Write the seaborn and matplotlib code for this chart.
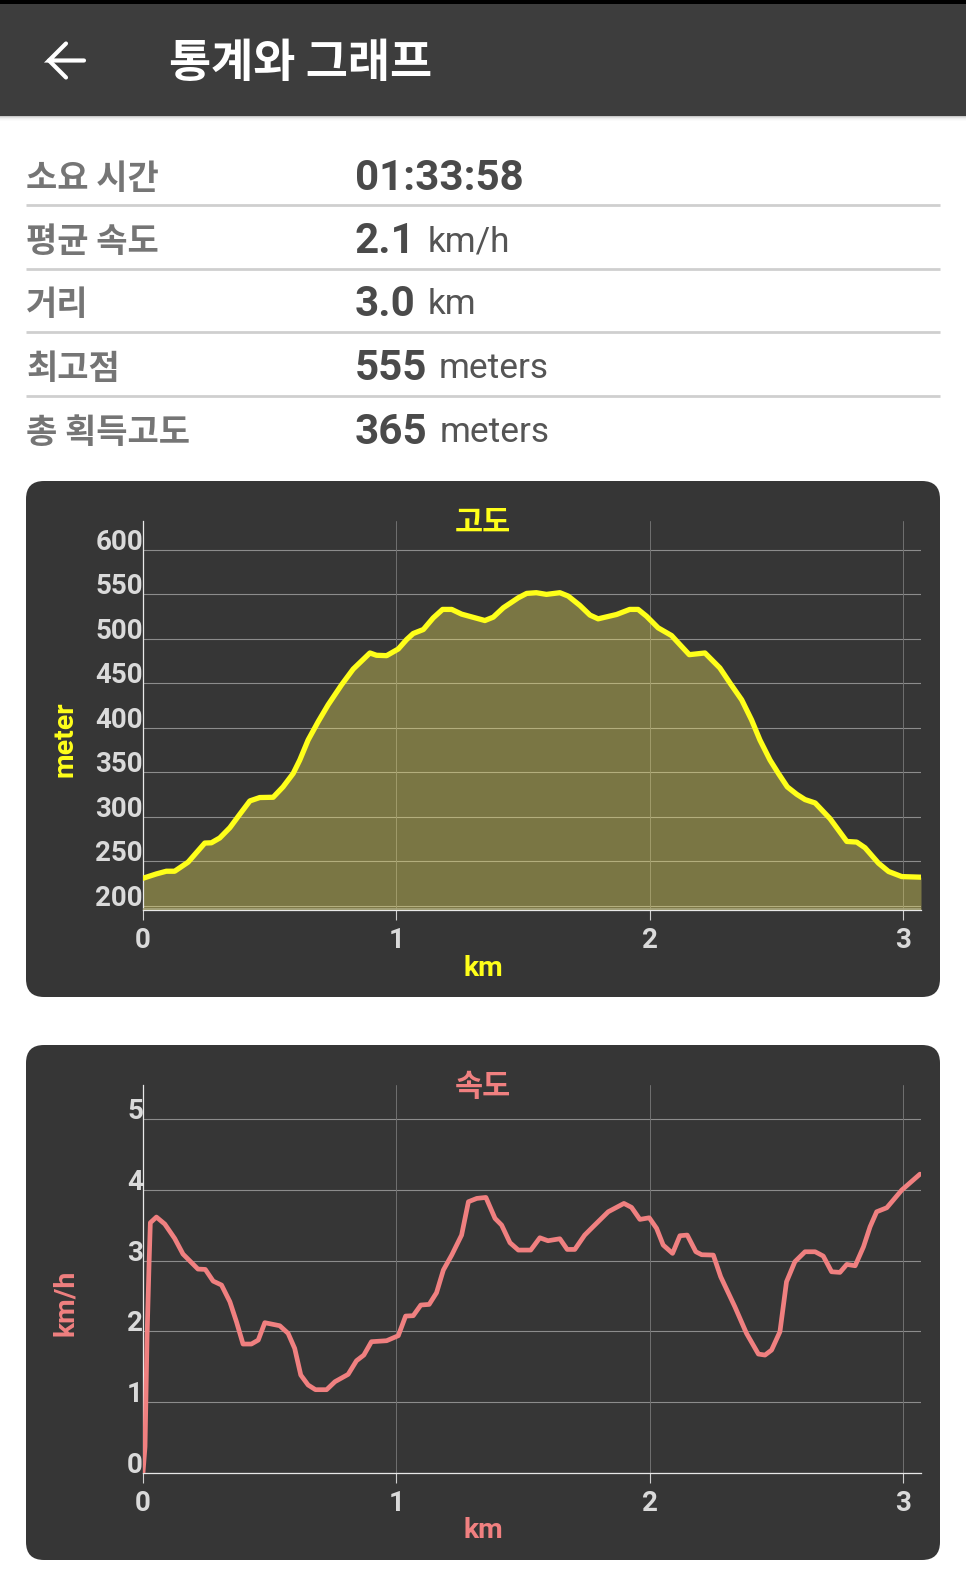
import matplotlib
matplotlib.use("Agg")
import matplotlib.pyplot as plt
from matplotlib.patches import FancyBboxPatch, Rectangle
import pandas as pd
import seaborn as sns

sns.set_theme(style="white")
KR = ['Noto Sans CJK KR', 'DejaVu Sans']
LAT = ['Roboto', 'Noto Sans CJK KR']
plt.rcParams['font.family'] = LAT

header_title = "통계와 그래프"
row_labels = ["소요 시간", "평균 속도", "거리", "최고점", "총 획득고도"]
row_values = ["01:33:58", "2.1", "3.0", "555", "365"]
row_units = ["", "km/h", "km", "meters", "meters"]

alt_km = [0, .053, .092, .125, .178, .244, .270, .303, .343, .382, .422, .461, .514, .553, .593, .619, .652, .692,
          .731, .784, .830, .896, .922, .962, 1.008, 1.041, 1.067, 1.107, 1.146, 1.183, 1.219, 1.258, 1.350,
          1.383, 1.423, 1.482, 1.515, 1.553, 1.593, 1.646, 1.679, 1.725, 1.765, 1.797, 1.870, 1.922, 1.955,
          1.988, 2.034, 2.087, 2.120, 2.157, 2.219, 2.278, 2.318, 2.364, 2.403, 2.436, 2.476, 2.509, 2.544,
          2.581, 2.614, 2.654, 2.713, 2.779, 2.818, 2.851, 2.904, 2.944, 2.996, 3.072]
alt_m = [230.7, 235.6, 238.6, 238.6, 248.8, 270.3, 270.6, 276, 287.6, 302.6, 317.7, 321.5, 321.8, 333.5, 348.6,
         363.6, 386.2, 407, 425.8, 448.3, 466, 484.1, 481.5, 481.1, 488.6, 499.2, 506, 510.5, 523.6, 533.1,
         533.1, 527.8, 520.6, 524.4, 535, 546.2, 551.1, 551.9, 550, 551.9, 548.1, 537.6, 526.7, 522.5, 527.4,
         533.1, 533.1, 525.5, 512.4, 503.7, 493.5, 482.2, 484.1, 467.2, 450.2, 431.4, 408.8, 386.2, 363.6,
         348.6, 333.5, 325.2, 319.2, 315.4, 297.7, 272.1, 271.4, 265, 247.7, 238.3, 232.6, 231.9]

spd_km = [0, .008, .016, .024, .029, .053, .086, .125, .158, .217, .246, .277, .310, .343, .369, .395, .428, .455,
          .481, .540, .573, .599, .623, .652, .681, .725, .758, .810, .843, .872, .902, .962, 1.008, 1.037, 1.067,
          1.097, 1.130, 1.159, 1.186, 1.219, 1.258, 1.285, 1.318, 1.354, 1.390, 1.416, 1.449, 1.482, 1.531, 1.567,
          1.599, 1.646, 1.675, 1.705, 1.744, 1.777, 1.837, 1.899, 1.929, 1.962, 1.999, 2.028, 2.054, 2.091, 2.120,
          2.149, 2.183, 2.206, 2.252, 2.281, 2.337, 2.383, 2.430, 2.456, 2.482, 2.515, 2.541, 2.574, 2.614, 2.654,
          2.686, 2.719, 2.752, 2.779, 2.812, 2.845, 2.871, 2.897, 2.937, 2.996, 3.068]
spd_v = [0, .368, 1.925, 2.962, 3.538, 3.618, 3.519, 3.316, 3.094, 2.882, 2.877, 2.712, 2.656, 2.42, 2.137, 1.821,
         1.821, 1.877, 2.123, 2.08, 1.972, 1.759, 1.382, 1.241, 1.175, 1.175, 1.288, 1.392, 1.585, 1.665, 1.854,
         1.868, 1.939, 2.217, 2.222, 2.373, 2.382, 2.547, 2.868, 3.08, 3.363, 3.835, 3.882, 3.896, 3.599, 3.505,
         3.255, 3.151, 3.151, 3.325, 3.283, 3.311, 3.16, 3.16, 3.363, 3.481, 3.693, 3.811, 3.755, 3.585, 3.608,
         3.458, 3.222, 3.104, 3.354, 3.363, 3.127, 3.085, 3.08, 2.774, 2.349, 1.972, 1.679, 1.665, 1.736, 1.995,
         2.703, 2.986, 3.127, 3.127, 3.066, 2.844, 2.835, 2.948, 2.929, 3.198, 3.481, 3.693, 3.75, 4.0, 4.226]

x_ticks = [0, 1, 2, 3]
alt_ticks = [200, 250, 300, 350, 400, 450, 500, 550, 600]
spd_ticks = [0, 1, 2, 3, 4, 5]

W, H = 966, 1584
fig = plt.figure(figsize=(W / 100, H / 100), dpi=100, facecolor='white')
ui = fig.add_axes([0, 0, 1, 1], zorder=0)
ui.set_xlim(0, W); ui.set_ylim(H, 0); ui.axis('off')

ui.add_patch(Rectangle((0, 0), W, 116, color='#3d3d3d', lw=0))
ui.add_patch(Rectangle((0, 0), W, 4, color='#000000', lw=0))
for i, c in enumerate(['#c8c8c8', '#e0e0e0', '#eeeeee', '#f6f6f6', '#fbfbfb']):
    ui.add_patch(Rectangle((0, 116 + i), W, 1, color=c, lw=0))
ui.plot([84, 49, 66], [60.5, 60.5, 43.5], color='white', lw=3, solid_capstyle='round', solid_joinstyle='miter')
ui.plot([49, 66], [60.5, 77.5], color='white', lw=3, solid_capstyle='round')
ui.text(169, 64, header_title, color='white', fontsize=33, family=KR, weight='bold', va='center', ha='left')

row_y = [178, 241.5, 305, 369, 432.5]
for y, lab, val, unit in zip(row_y, row_labels, row_values, row_units):
    ui.text(26, y, lab, color='#757575', fontsize=24.5, family=KR, weight='bold', va='center', ha='left')
    t = ui.text(355, y, val, color='#4a4a4a', fontsize=30.3, family=LAT, weight='bold', va='center', ha='left')
    if unit:
        fig.canvas.draw()
        bb = t.get_window_extent()
        ui.text(bb.x1 + 11.5, y, unit, color='#555555', fontsize=25.4, family=LAT, va='center', ha='left')
for y in [205, 269, 332, 396]:
    ui.plot([26, 940], [y, y], color='#cfcfcf', lw=2.0, solid_capstyle='butt')


def panel(top, bottom):
    ui.add_patch(FancyBboxPatch((26, top), 914, bottom - top, boxstyle="round,pad=0,rounding_size=18",
                                fc='#363636', ec='none'))


def chart(px_top, px_bottom, km, vals, color, ylim, yticks, title, ylabel, title_y, xlab_y, ylab_y, lw):
    ax = fig.add_axes([143.0 / W, 1 - px_bottom / H, (921 - 143.0) / W, (px_bottom - px_top) / H], zorder=2)
    ax.patch.set_alpha(0)
    df = pd.DataFrame({'km': km, 'v': vals})
    sns.lineplot(data=df, x='km', y='v', ax=ax, color=color, estimator=None, sort=False, zorder=4)
    for ln in ax.lines:
        ln.set_linewidth(lw)
        ln.set_solid_joinstyle('round')
    ax.set_xlim(0, 3.072)
    ax.set_ylim(*ylim)
    ax.set_xticks(x_ticks)
    ax.set_yticks(yticks)
    ax.set_xlabel(''); ax.set_ylabel('')
    for y in yticks:
        ax.axhline(y, color='#8c8c8c', lw=0.8, zorder=1)
    for x in x_ticks[1:]:
        ax.axvline(x, color='#707070', lw=0.7, zorder=1)
    for s in ['top', 'right']:
        ax.spines[s].set_visible(False)
    for s in ['left', 'bottom']:
        ax.spines[s].set_color('#e8e8e8'); ax.spines[s].set_linewidth(0.9)
    ax.tick_params(axis='x', length=7, width=0.8, color='#d0d0d0', labelcolor='#dadada', labelsize=20, pad=5.5, bottom=True)
    ax.tick_params(axis='y', length=0, labelcolor='#dadada', labelsize=20, pad=0, left=False)
    for l in ax.get_yticklabels():
        l.set_va('baseline')
        l.set_weight('bold')
    for l in ax.get_xticklabels():
        l.set_weight('bold')
    ui.text(483, title_y, title, color=color, fontsize=22, family=KR, weight='bold', ha='center', va='center')
    ui.text(483, xlab_y, 'km', color=color, fontsize=20.5, family=LAT, weight='bold', ha='center', va='center')
    ui.text(65, ylab_y, ylabel, color=color, fontsize=20.5, family=LAT, weight='bold', rotation=90, ha='center', va='center')
    return ax


panel(481, 997)
panel(1045, 1560)
YEL = '#ffff1a'
PNK = '#f08080'
a1 = chart(520.6, 910, alt_km, alt_m, YEL, (195, 633), alt_ticks, '고도', 'meter', 523, 968, 739, 3.8)
a1.fill_between(alt_km, alt_m, 195, color=(1, 0.95, 0.385), alpha=0.34, lw=0, zorder=2)
a1.axhline(196, color='#a8a67e', lw=1.2, zorder=3)
a2 = chart(1084.8, 1472.7, spd_km, spd_v, PNK, (0, 5.49), spd_ticks, '속도', 'km/h', 1087, 1531, 1303, 3.4)

fig.savefig('out.png', dpi=100, facecolor='white')
